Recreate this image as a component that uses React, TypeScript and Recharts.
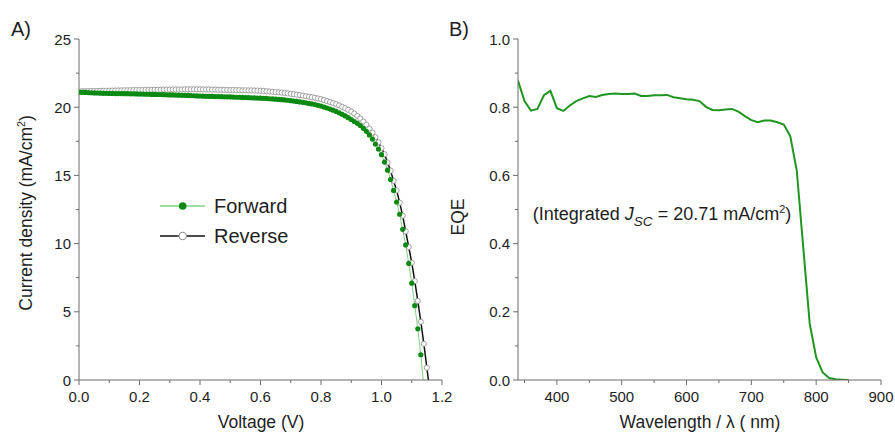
import React from "react";
import { LineChart, Line, XAxis, YAxis } from "recharts";

// A) J-V curves
const voltage = [
  0, 0.01, 0.02, 0.03, 0.04, 0.05, 0.06, 0.07, 0.08, 0.09,
  0.1, 0.11, 0.12, 0.13, 0.14, 0.15, 0.16, 0.17, 0.18, 0.19,
  0.2, 0.21, 0.22, 0.23, 0.24, 0.25, 0.26, 0.27, 0.28, 0.29,
  0.3, 0.31, 0.32, 0.33, 0.34, 0.35, 0.36, 0.37, 0.38, 0.39,
  0.4, 0.41, 0.42, 0.43, 0.44, 0.45, 0.46, 0.47, 0.48, 0.49,
  0.5, 0.51, 0.52, 0.53, 0.54, 0.55, 0.56, 0.57, 0.58, 0.59,
  0.6, 0.61, 0.62, 0.63, 0.64, 0.65, 0.66, 0.67, 0.68, 0.69,
  0.7, 0.71, 0.72, 0.73, 0.74, 0.75, 0.76, 0.77, 0.78, 0.79,
  0.8, 0.81, 0.82, 0.83, 0.84, 0.85, 0.86, 0.87, 0.88, 0.89,
  0.9, 0.91, 0.92, 0.93, 0.94, 0.95, 0.96, 0.97, 0.98, 0.99,
  1.0, 1.01, 1.02, 1.03, 1.04, 1.05, 1.06, 1.07, 1.08, 1.09,
  1.1, 1.11, 1.12, 1.13, 1.14, 1.15, 1.16,
];

const forwardJ = [
  21.1, 21.09, 21.08, 21.07, 21.06, 21.05, 21.04, 21.03, 21.02, 21.02, 21.01,
  21.01, 21.0, 21.0, 21.0, 20.99, 20.99, 20.98, 20.98, 20.97, 20.96,
  20.96, 20.95, 20.95, 20.94, 20.94, 20.93, 20.93, 20.92, 20.91, 20.9,
  20.9, 20.89, 20.88, 20.87, 20.87, 20.86, 20.85, 20.84, 20.83, 20.82,
  20.81, 20.8, 20.8, 20.79, 20.78, 20.78, 20.77, 20.76, 20.76, 20.75,
  20.74, 20.73, 20.73, 20.72, 20.71, 20.7, 20.69, 20.68, 20.67, 20.66,
  20.65, 20.64, 20.62, 20.61, 20.59, 20.57, 20.55, 20.53, 20.51, 20.48,
  20.45, 20.42, 20.39, 20.36, 20.32, 20.28, 20.24, 20.19, 20.14, 20.08,
  20.01, 19.94, 19.86, 19.78, 19.69, 19.59, 19.48, 19.36, 19.23, 19.1,
  18.95, 18.82, 18.66, 18.45, 18.23, 17.97, 17.66, 17.3, 16.93, 16.52,
  15.98, 15.38, 14.7, 13.9, 13.05, 12.15, 11.05, 9.9, 8.55, 7.1,
  5.45, 3.75, 1.85, -0.5,
];

const reverseJ = [
  21.16, 21.17, 21.17, 21.18, 21.18, 21.19, 21.19, 21.2, 21.2, 21.21, 21.21,
  21.22, 21.22, 21.23, 21.23, 21.24, 21.24, 21.25, 21.25, 21.26, 21.26,
  21.26, 21.27, 21.27, 21.27, 21.28, 21.28, 21.28, 21.29, 21.29, 21.29,
  21.3, 21.3, 21.3, 21.3, 21.31, 21.31, 21.31, 21.31, 21.31, 21.31,
  21.3, 21.3, 21.3, 21.29, 21.29, 21.28, 21.28, 21.27, 21.27, 21.26,
  21.26, 21.25, 21.25, 21.24, 21.24, 21.23, 21.23, 21.22, 21.22, 21.21,
  21.19, 21.17, 21.15, 21.13, 21.11, 21.09, 21.07, 21.04, 21.01, 20.98,
  20.95, 20.92, 20.89, 20.85, 20.81, 20.77, 20.73, 20.69, 20.64, 20.59,
  20.52, 20.45, 20.38, 20.3, 20.22, 20.13, 20.03, 19.92, 19.81, 19.68,
  19.53, 19.36, 19.17, 18.95, 18.71, 18.44, 18.14, 17.8, 17.43, 17.0,
  16.55, 15.95, 15.35, 14.6, 13.9, 13.0, 12.05, 10.9, 9.75, 8.6,
  7.25, 5.8, 4.27, 2.65, 0.9, -0.9,
];

const jvXTicks = [0, 0.1, 0.2, 0.3, 0.4, 0.5, 0.6, 0.7, 0.8, 0.9, 1.0, 1.1, 1.2];
const jvXLabels = [0, 0.2, 0.4, 0.6, 0.8, 1.0, 1.2];
const jvYTicks = [0, 2.5, 5, 7.5, 10, 12.5, 15, 17.5, 20, 22.5, 25];
const jvYLabels = [0, 5, 10, 15, 20, 25];

// B) EQE spectrum
const wavelength = [
  340, 350, 360, 370, 380, 390, 400, 410, 420, 430, 440, 450, 460, 470, 480,
  490, 500, 510, 520, 530, 540, 550, 560, 570, 580, 590, 600, 610, 620, 630,
  640, 650, 660, 670, 680, 690, 700, 710, 720, 730, 740, 750, 760, 770, 780,
  790, 800, 810, 820, 830, 840, 850,
];
const eqe = [
  0.878, 0.818, 0.79, 0.795, 0.835, 0.848, 0.797, 0.789, 0.805, 0.818, 0.826,
  0.833, 0.83, 0.836, 0.839, 0.84, 0.839, 0.839, 0.84, 0.833, 0.833, 0.835,
  0.835, 0.836, 0.829, 0.826, 0.823, 0.822, 0.818, 0.801, 0.792, 0.791, 0.793,
  0.795, 0.787, 0.774, 0.762, 0.756, 0.761, 0.761, 0.756, 0.749, 0.715, 0.615,
  0.39, 0.166, 0.066, 0.022, 0.006, 0.002, 0.001, 0.0,
];

const eqeXTicks = [350, 400, 450, 500, 550, 600, 650, 700, 750, 800, 850, 900];
const eqeXLabels = [400, 500, 600, 700, 800, 900];
const eqeYTicks = [0, 0.1, 0.2, 0.3, 0.4, 0.5, 0.6, 0.7, 0.8, 0.9, 1.0];
const eqeYLabels = [0, 0.2, 0.4, 0.6, 0.8, 1.0];

const FONT = '"Liberation Sans", Arial, sans-serif';
const AXIS = "#6b6b6b";
const TEXT = "#1e1e1e";
const GREEN_DOT = "#0b8a12";
const GREEN_LINE = "#7fd07f";
const EQE_GREEN = "#1f961f";

const forwardData = forwardJ.map((j, i) => ({ v: voltage[i], j }));
const reverseData = reverseJ.map((j, i) => ({ v: voltage[i], j }));
const eqeData = eqe.map((q, i) => ({ w: wavelength[i], q }));

const makeXTick = (labels: number[], fmt: (v: number) => string) => (props: any) => {
  const { x, y, payload } = props;
  const major = labels.includes(payload.value);
  return (
    <g>
      <line x1={x} y1={y} x2={x} y2={y + (major ? 5 : 3)} stroke={AXIS} />
      {major && (
        <text x={x} y={y + 22} textAnchor="middle" fontSize={15} fill={TEXT} fontFamily={FONT}>
          {fmt(payload.value)}
        </text>
      )}
    </g>
  );
};

const makeYTick = (labels: number[], fmt: (v: number) => string) => (props: any) => {
  const { x, y, payload } = props;
  const major = labels.includes(payload.value);
  return (
    <g>
      <line x1={x} y1={y} x2={x - (major ? 5 : 3)} y2={y} stroke={AXIS} />
      {major && (
        <text x={x - 8} y={y + 5.5} textAnchor="end" fontSize={15} fill={TEXT} fontFamily={FONT}>
          {fmt(payload.value)}
        </text>
      )}
    </g>
  );
};

const label = (left: number, top: number, size: number, rotate = false): React.CSSProperties => ({
  position: "absolute",
  left,
  top,
  transform: `translate(-50%, -50%)${rotate ? " rotate(-90deg)" : ""}`,
  whiteSpace: "nowrap",
  fontFamily: FONT,
  fontSize: size,
  color: TEXT,
  lineHeight: 1,
});

const sup: React.CSSProperties = { fontSize: "0.6em", verticalAlign: "0.7em" };

export default function App() {
  return (
    <div style={{ position: "relative", width: 895, height: 433, background: "#fff" }}>
      <style>{"body{margin:0}"}</style>

      <div style={{ position: "absolute", left: 0, top: 0 }}>
        <LineChart width={462} height={433} margin={{ top: 39, right: 20, bottom: 0, left: 0 }}>
          <XAxis
            dataKey="v"
            type="number"
            domain={[0, 1.2]}
            ticks={jvXTicks}
            interval={0}
            allowDataOverflow
            height={53}
            tickSize={0}
            tickMargin={0}
            tickLine={false}
            axisLine={{ stroke: AXIS }}
            tick={makeXTick(jvXLabels, (v) => v.toFixed(1))}
          />
          <YAxis
            type="number"
            domain={[0, 25]}
            ticks={jvYTicks}
            interval={0}
            allowDataOverflow
            width={79}
            tickSize={0}
            tickMargin={0}
            tickLine={false}
            axisLine={{ stroke: AXIS }}
            tick={makeYTick(jvYLabels, (v) => String(v))}
          />
          <Line
            data={reverseData}
            dataKey="j"
            type="linear"
            stroke="#111"
            strokeWidth={1.5}
            dot={{ r: 2.6, fill: "#fff", stroke: "#8a8a8a", strokeWidth: 0.8 }}
            isAnimationActive={false}
          />
          <Line
            data={forwardData}
            dataKey="j"
            type="linear"
            stroke={GREEN_LINE}
            strokeWidth={1}
            dot={{ r: 2.6, fill: GREEN_DOT, stroke: GREEN_DOT, strokeWidth: 0 }}
            isAnimationActive={false}
          />
        </LineChart>
      </div>

      <div style={{ position: "absolute", left: 450, top: 0 }}>
        <LineChart width={445} height={433} margin={{ top: 39, right: 14, bottom: 0, left: 0 }} data={eqeData}>
          <XAxis
            dataKey="w"
            type="number"
            domain={[340, 900]}
            ticks={eqeXTicks}
            interval={0}
            allowDataOverflow
            height={53}
            tickSize={0}
            tickMargin={0}
            tickLine={false}
            axisLine={{ stroke: AXIS }}
            tick={makeXTick(eqeXLabels, (v) => String(v))}
          />
          <YAxis
            type="number"
            domain={[0, 1]}
            ticks={eqeYTicks}
            interval={0}
            allowDataOverflow
            width={68}
            tickSize={0}
            tickMargin={0}
            tickLine={false}
            axisLine={{ stroke: AXIS }}
            tick={makeYTick(eqeYLabels, (v) => v.toFixed(1))}
          />
          <Line
            dataKey="q"
            type="linear"
            stroke={EQE_GREEN}
            strokeWidth={2}
            dot={false}
            isAnimationActive={false}
          />
        </LineChart>
      </div>

      {/* panel letters and axis titles */}
      <div style={label(21, 29, 20)}>A)</div>
      <div style={label(459, 29, 20)}>B)</div>
      <div style={label(261, 423, 17.5)}>Voltage (V)</div>
      <div style={label(26, 213, 17.5, true)}>
        Current density (mA/cm<span style={sup}>2</span>)
      </div>
      <div style={label(700, 423, 17.5)}>Wavelength / λ ( nm)</div>
      <div style={label(459, 217, 17.5, true)}>EQE</div>
      <div style={label(662, 216, 18)}>
        (Integrated <i>J</i>
        <span style={{ fontSize: "0.75em", fontStyle: "italic", verticalAlign: "-0.4em" }}>SC</span> = 20.71 mA/cm
        <span style={sup}>2</span>)
      </div>

      {/* legend */}
      <svg style={{ position: "absolute", left: 150, top: 190 }} width={140} height={60}>
        <line x1={10} y1={16} x2={55} y2={16} stroke={GREEN_LINE} strokeWidth={1.5} />
        <circle cx={32.7} cy={16} r={3.8} fill={GREEN_DOT} />
        <line x1={10} y1={46} x2={55} y2={46} stroke="#111" strokeWidth={1.5} />
        <circle cx={32.7} cy={46} r={3.8} fill="#fff" stroke="#8a8a8a" strokeWidth={1} />
        <text x={64} y={23} fontSize={20} fill={TEXT} fontFamily={FONT}>Forward</text>
        <text x={64} y={53} fontSize={20} fill={TEXT} fontFamily={FONT}>Reverse</text>
      </svg>
    </div>
  );
}
